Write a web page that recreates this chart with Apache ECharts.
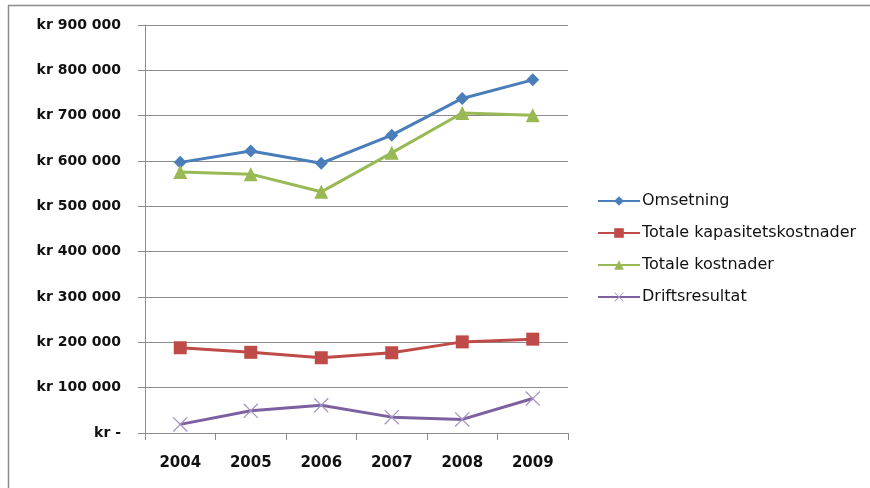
<!DOCTYPE html>
<html>
<head>
<meta charset="utf-8">
<script src="https://cdn.jsdelivr.net/npm/echarts@6/dist/echarts.min.js"></script>
<style>
html,body{margin:0;padding:0;background:#fff;}
#chart{width:870px;height:488px;}
</style>
</head>
<body>
<div id="chart"></div>
<script>
// Years on the category axis
const years = ['2004', '2005', '2006', '2007', '2008', '2009'];

// Series values in NOK
const omsetning = [597000, 622000, 595000, 657000, 738000, 779000];
const kapasitetskostnader = [188000, 178000, 166000, 177000, 201000, 207000];
const totaleKostnader = [576000, 571000, 532000, 618000, 706000, 701000];
const driftsresultat = [19000, 49000, 61000, 35000, 30000, 76000];

// Value axis range
const yMin = 0;
const yMax = 900000;
const yStep = 100000;

function formatKr(v) {
  if (v === 0) return 'kr -';
  return 'kr ' + String(Math.round(v)).replace(/\B(?=(\d{3})+(?!\d))/g, ' ');
}

const crossPath = 'path://M0,0.6 L0.6,0 L5,4.4 L9.4,0 L10,0.6 L5.6,5 L10,9.4 L9.4,10 L5,5.6 L0.6,10 L0,9.4 L4.4,5 Z';

const uiFont = '"DejaVu Sans", sans-serif';

const chart = echarts.init(document.getElementById('chart'), null, { renderer: 'canvas' });

function lineSeries(name, data, color, symbol, size, symbolColor) {
  return {
    name: name,
    type: 'line',
    data: data,
    symbol: symbol,
    symbolSize: size,
    showAllSymbol: true,
    lineStyle: { color: color, width: 3 },
    itemStyle: { color: symbolColor || color, borderWidth: 0 },
    emphasis: { disabled: true },
    animation: false
  };
}

chart.setOption({
  animation: false,
  backgroundColor: '#ffffff',
  graphic: [
    { type: 'line', shape: { x1: 8, y1: 5.5, x2: 870, y2: 5.5 }, style: { stroke: '#8c8c8c', lineWidth: 1.5 } },
    { type: 'line', shape: { x1: 8.5, y1: 5, x2: 8.5, y2: 488 }, style: { stroke: '#8c8c8c', lineWidth: 1.5 } }
  ],
  grid: { left: 145, right: 302, top: 25, bottom: 55, containLabel: false },
  legend: {
    orient: 'vertical',
    left: 597,
    top: 193,
    padding: 0,
    itemGap: 16,
    itemWidth: 42,
    itemHeight: 12,
    textStyle: { fontSize: 16, color: '#111', fontFamily: uiFont, padding: [0, 0, 0, -3] },
    data: ['Omsetning', 'Totale kapasitetskostnader', 'Totale kostnader', 'Driftsresultat']
  },
  xAxis: {
    type: 'category',
    data: years,
    boundaryGap: true,
    axisLine: { lineStyle: { color: '#8c8c8c', width: 1 } },
    axisTick: { show: true, length: 7, lineStyle: { color: '#8c8c8c' }, alignWithLabel: false },
    axisLabel: { color: '#111', fontSize: 15, fontWeight: 'bold', margin: 23, fontFamily: uiFont },
    splitLine: { show: false }
  },
  yAxis: {
    type: 'value',
    min: yMin,
    max: yMax,
    interval: yStep,
    axisLine: { show: true, lineStyle: { color: '#8c8c8c', width: 1 } },
    axisTick: { show: true, length: 7, lineStyle: { color: '#8c8c8c' } },
    splitLine: { lineStyle: { color: '#8c8c8c', width: 1 } },
    axisLabel: { color: '#111', fontSize: 14, fontWeight: 'bold', margin: 24, formatter: formatKr, fontFamily: uiFont }
  },
  series: [
    lineSeries('Omsetning', omsetning, '#4a7ebb', 'diamond', 13),
    lineSeries('Totale kapasitetskostnader', kapasitetskostnader, '#be4b48', 'rect', 13),
    lineSeries('Totale kostnader', totaleKostnader, '#98b954', 'triangle', 14),
    lineSeries('Driftsresultat', driftsresultat, '#7d60a0', crossPath, 15, '#a394c0')
  ]
});
</script>
</body>
</html>
